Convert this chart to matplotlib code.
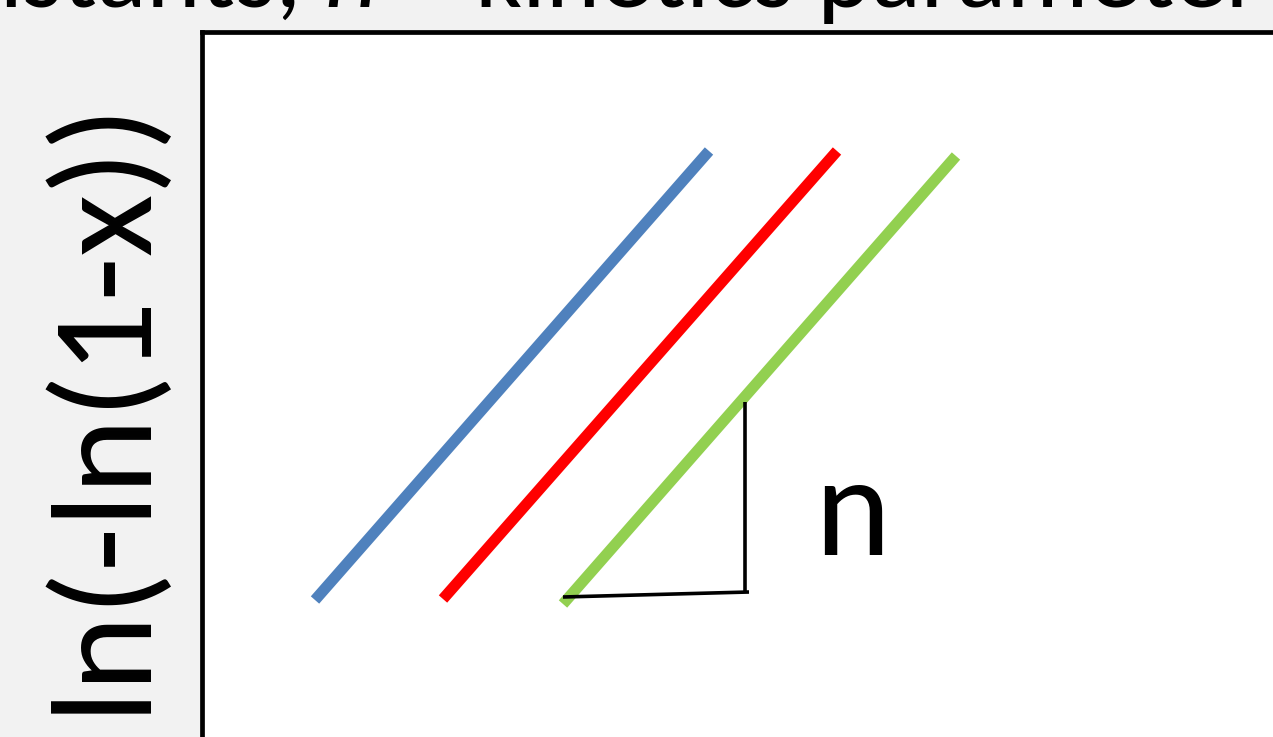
import matplotlib
matplotlib.use("Agg")
import matplotlib.pyplot as plt
from matplotlib import font_manager

W, H, DPI = 1273, 737, 100

# ---- data (ln t vs ln(-ln(1-x)), arbitrary units) ----
series_names = ["T1", "T2", "T3"]
series_colors = ["#4f81bd", "#ff0000", "#92d050"]
x_start = [1.13, 2.41, 3.61]
x_end = [5.07, 6.35, 7.54]
y_start = [1.37, 1.38, 1.33]
y_end = [5.86, 5.86, 5.81]

tri_x = [3.61, 5.47]
tri_y = [1.40, 1.45]
tri_vx = [5.43, 5.43]
tri_vy = [3.35, 1.45]

ylabel_text = "ln(-ln(1-x))"
title_left = "k = rate constants, "
title_mid = "n"
title_right = " = kinetics parameter"
slope_label = "n"

avail = {f.name for f in font_manager.fontManager.ttflist}
fam = [f for f in ["Carlito", "Lato", "Open Sans", "DejaVu Sans"] if f in avail]
plt.rcParams["font.family"] = fam

fig = plt.figure(figsize=(W / DPI, H / DPI), dpi=DPI, facecolor="#f2f2f2")
left = 202 / W
top = 1 - 32 / H
ax = fig.add_axes([left, -0.1, 1.0, top + 0.1])
ax.set_facecolor("white")
ax.set_xlim(0, W / 100)
ax.set_ylim(-0.737, 7.05)
for s in ["right", "bottom"]:
    ax.spines[s].set_visible(False)
for s in ["left", "top"]:
    ax.spines[s].set_linewidth(3.4)
    ax.spines[s].set_color("black")
ax.set_xticks([])
ax.set_yticks([])

for xs, xe, ys, ye, c in zip(x_start, x_end, y_start, y_end, series_colors):
    ax.plot([xs, xe], [ys, ye], color=c, lw=8, solid_capstyle="butt")

ax.plot(tri_x, tri_y, color="black", lw=2.6, solid_capstyle="butt")
ax.plot(tri_vx, tri_vy, color="black", lw=2.6, solid_capstyle="butt")

fig.canvas.draw()
r = fig.canvas.get_renderer()

# y label fitted to its span in the reference
yl = fig.text(102 / W, 1 - 404 / H, ylabel_text, rotation=90, ha="center",
              va="center", fontsize=100, color="black")
bb = yl.get_window_extent(r)
fs = 100 * 597 / bb.height * 1.035
yl.set_fontsize(fs)

nt = ax.text(6.12, 1.82, slope_label, fontsize=fs, ha="left",
             va="baseline", color="black")

# title (cropped at the top edge as in the reference)
probe = fig.text(0, 0, "kinetics parameter", fontsize=74)
pb = probe.get_window_extent(r)
probe.remove()
tfs = 74 * 786 / pb.width
base_y = 1 - 7 / H
tr = fig.text(1262 / W, base_y, title_right, ha="right", va="baseline",
              fontsize=tfs, color="black")
x_r = tr.get_window_extent(r).x0
tm = fig.text(x_r / W, base_y, title_mid, ha="right", va="baseline",
              fontsize=tfs, style="italic", color="black")
x_m = tm.get_window_extent(r).x0
tl = fig.text(x_m / W, base_y, title_left, ha="right", va="baseline",
              fontsize=tfs, color="black")

fig.savefig("out.png", dpi=DPI, facecolor=fig.get_facecolor())
